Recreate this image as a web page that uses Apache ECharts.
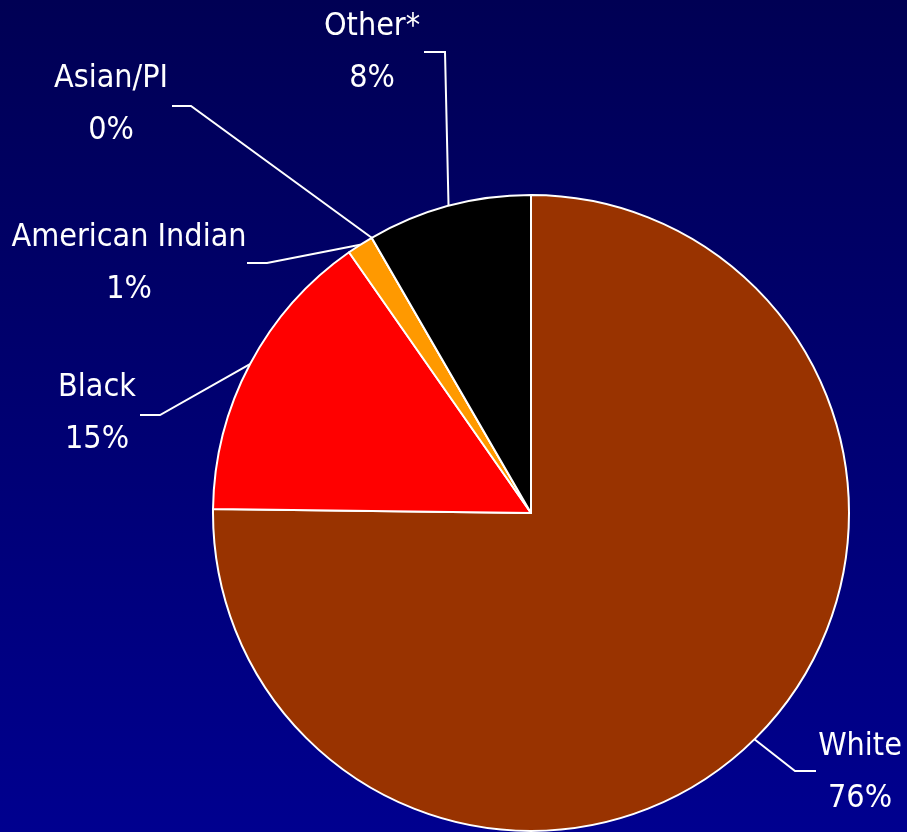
<!DOCTYPE html>
<html><head><meta charset="utf-8">
<script src="https://cdn.jsdelivr.net/npm/echarts@6/dist/echarts.min.js"></script>
<style>html,body{margin:0;padding:0;background:#000070}#c{width:907px;height:832px}</style>
</head><body><div id="c"></div>
<script>
const categories = ['White', 'Black', 'American Indian', 'Asian/PI', 'Other*'];
const sliceValues = [75.2, 15.1, 1.35, 0, 8.35];
const labelPercents = [76, 15, 1, 0, 8];
const sliceColors = ['#993300', '#FF0000', '#FF9900', '#FFFF00', '#000000'];

const CX = 531, CY = 513, R = 318;
// label text centre, bend point and end of leader (layout only)
const labelSpots = [
  { x: 860, y: 773, bend: [795, 771], end: [816, 771] },
  { x: 97,  y: 414, bend: [160, 415], end: [140, 415] },
  { x: 129, y: 264, bend: [267, 263], end: [247, 263] },
  { x: 111, y: 105, bend: [191, 106], end: [172, 106] },
  { x: 372, y: 53,  bend: [445, 52],  end: [424, 52] }
];
const total = sliceValues.reduce((a, b) => a + b, 0);
function midPoint(i) {
  let before = 0;
  for (let k = 0; k < i; k++) before += sliceValues[k];
  const a = (before + sliceValues[i] / 2) / total * 2 * Math.PI;
  return [CX + R * Math.sin(a), CY - R * Math.cos(a)];
}

const chart = echarts.init(document.getElementById('c'));
chart.setOption({
  animation: false,
  backgroundColor: {
    type: 'linear', x: 0, y: 0, x2: 0, y2: 1,
    colorStops: [{ offset: 0, color: '#000054' }, { offset: 1, color: '#00008F' }]
  },
  series: [{
    type: 'pie',
    center: [CX, CY],
    radius: R,
    startAngle: 90,
    clockwise: true,
    stillShowZeroSum: true,
    data: categories.map((n, i) => ({ name: n, value: sliceValues[i], itemStyle: { color: sliceColors[i] } })),
    itemStyle: { borderColor: '#ffffff', borderWidth: 2 },
    label: {
      show: true,
      position: 'outside',
      color: '#ffffff',
      fontFamily: '"Liberation Sans Narrow", "DejaVu Sans Condensed", "Liberation Sans", sans-serif',
      fontSize: 32,
      lineHeight: 52,
      align: 'center',
      overflow: 'none',
      formatter: p => p.name + '\n' + labelPercents[p.dataIndex] + '%'
    },
    labelLine: { show: true, lineStyle: { color: '#ffffff', width: 2 } },
    labelLayout: function (p) {
      const s = labelSpots[p.dataIndex];
      return {
        x: s.x, y: s.y, align: 'center', verticalAlign: 'middle',
        width: 300,
        labelLinePoints: [midPoint(p.dataIndex), s.bend, s.end]
      };
    },
    emphasis: { disabled: true }
  }]
});
</script></body></html>
